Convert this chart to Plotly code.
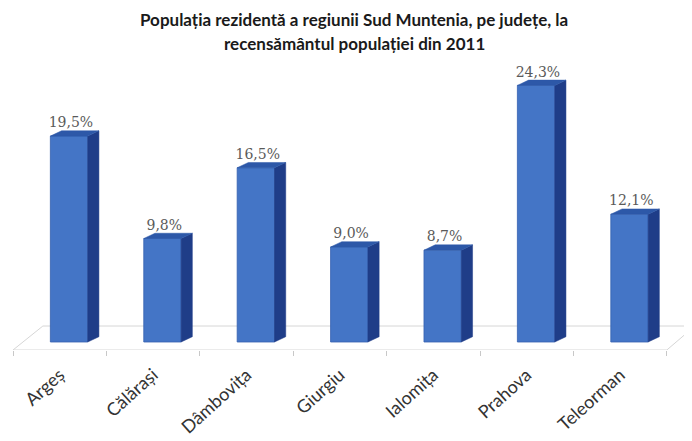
import plotly.graph_objects as go

categories = ["Argeș", "Călărași", "Dâmbovița", "Giurgiu", "Ialomița", "Prahova", "Teleorman"]
values = [19.5, 9.8, 16.5, 9.0, 8.7, 24.3, 12.1]
value_labels = ["19,5%", "9,8%", "16,5%", "9,0%", "8,7%", "24,3%", "12,1%"]

title_line1 = "Populația rezidentă a regiunii Sud Muntenia, pe județe, la"
title_line2 = "recensământul populației din 2011"

FRONT = "#4475c6"
SIDE = "#1f3d88"
TOP = "#2d58a8"

# 3D look parameters (category units / value units)
bar_w = 0.40
bar_off = 0.10
dx = 0.12
dy = 0.5

xs = list(range(len(categories)))

fig = go.Figure()

# front faces
fig.add_trace(go.Bar(
    x=[k + bar_off for k in xs], y=values, width=bar_w,
    marker=dict(color=FRONT, line=dict(color="#3561b0", width=0.8)),
    hoverinfo="skip", showlegend=False,
))

# side faces and top faces as polygons derived from the values
side_x, side_y, top_x, top_y = [], [], [], []
for k, v in zip(xs, values):
    l = k + bar_off - bar_w / 2
    r = k + bar_off + bar_w / 2
    side_x += [r, r, r + dx, r + dx, r, None]
    side_y += [0, v, v + dy, dy, 0, None]
    top_x += [l, r, r + dx, l + dx, l, None]
    top_y += [v, v, v + dy, v + dy, v, None]

fig.add_trace(go.Scatter(x=side_x, y=side_y, fill="toself", fillcolor=SIDE,
                         mode="lines", line=dict(color=SIDE, width=0.5),
                         hoverinfo="skip", showlegend=False))
fig.add_trace(go.Scatter(x=top_x, y=top_y, fill="toself", fillcolor=TOP,
                         mode="lines", line=dict(color=TOP, width=0.5),
                         hoverinfo="skip", showlegend=False))

# data labels
fig.add_trace(go.Scatter(
    x=[k + 0.12 for k in xs], y=[v + dy for v in values],
    mode="text", text=value_labels, textposition="top center",
    textfont=dict(family="DejaVu Serif", size=14, color="#5a5a5a"),
    hoverinfo="skip", showlegend=False,
))

n = len(categories)
y_front = -0.758
y_back = 1.515
# floor (light grey parallelogram)
fig.add_shape(type="path",
              path=f"M -0.5 {y_front} L {n - 0.5} {y_front} L {n - 0.2} {y_back} L -0.18 {y_back} Z",
              line=dict(color="#d6d6d6", width=1), fillcolor="rgba(0,0,0,0)", layer="below")

fig.add_annotation(text=title_line1, xref="paper", yref="paper", x=0.5, y=1.0,
                   yanchor="middle", yshift=-11, showarrow=False,
                   font=dict(family="Lato", size=17, color="#1a1a1a", weight="bold"))
fig.add_annotation(text=title_line2, xref="paper", yref="paper", x=0.5, y=1.0,
                   yanchor="middle", yshift=-35, showarrow=False,
                   font=dict(family="Lato", size=17, color="#1a1a1a", weight="bold"))

fig.update_layout(
    width=692, height=441,
    margin=dict(l=0, r=0, t=0, b=99),
    paper_bgcolor="white", plot_bgcolor="white",
    barmode="overlay",
    xaxis=dict(range=[-0.5535, 6.855], tickmode="array", tickvals=xs, ticktext=categories,
               tickangle=-42, ticks="", showgrid=False, zeroline=False, showline=False,
               ticklabelstandoff=10, automargin=False,
               tickfont=dict(family="Lato", size=18, color="#333333"),
               minor=dict(tick0=-0.5, dtick=1, ticks="outside", ticklen=5,
                          tickcolor="#c8c8c8", showgrid=False),
               fixedrange=True),
    yaxis=dict(range=[-0.758, 31.63], visible=False, fixedrange=True, automargin=False),
    showlegend=False,
)

fig.write_html("out.html")
